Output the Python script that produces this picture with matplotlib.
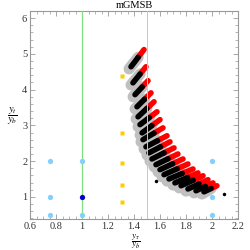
import matplotlib
matplotlib.use('Agg')
import matplotlib.pyplot as plt
import numpy as np
from matplotlib.ticker import MultipleLocator

plt.rcParams['font.family'] = 'Liberation Serif'
plt.rcParams['mathtext.fontset'] = 'stix'

# benchmark points
light_x = [0.75, 0.75, 0.75, 1.0, 1.0, 2.0, 2.0, 2.0]
light_y = [0.5, 1.0, 2.0, 0.5, 2.0, 0.5, 1.0, 2.0]
dark_x = [1.0]
dark_y = [1.0]
yellow_x = [1.31, 1.31, 1.31, 1.31, 1.31]
yellow_y = [4.37, 2.78, 1.94, 1.34, 0.86]

# mGMSB scan streaks: start (black end) -> end (red end)
streak_x0 = [1.377, 1.392, 1.408, 1.423, 1.431, 1.446, 1.462, 1.469, 1.492, 1.515,
             1.538, 1.569, 1.600, 1.631, 1.669, 1.715, 1.762, 1.815, 1.877, 1.938]
streak_y0 = [4.64, 4.19, 3.86, 3.52, 3.24, 3.02, 2.79, 2.60, 2.40, 2.23,
             2.06, 1.90, 1.76, 1.62, 1.50, 1.39, 1.31, 1.22, 1.17, 1.14]
streak_x1 = [1.477, 1.492, 1.508, 1.531, 1.554, 1.577, 1.600, 1.623, 1.654, 1.677,
             1.708, 1.738, 1.777, 1.815, 1.854, 1.892, 1.931, 1.969, 2.008, 2.038]
streak_y1 = [5.12, 4.64, 4.25, 3.91, 3.66, 3.38, 3.16, 2.93, 2.71, 2.54,
             2.37, 2.20, 2.06, 1.92, 1.78, 1.67, 1.59, 1.48, 1.39, 1.31]
stray_x = [1.569, 2.092]
stray_y = [1.45, 1.08]

red_frac = 0.45

fig = plt.figure(figsize=(2.5, 2.5), dpi=100)
ax = fig.add_axes([0.12, 0.124, 0.832, 0.832])

# gray halo behind the black parts
for x0, y0, x1, y1 in zip(streak_x0, streak_y0, streak_x1, streak_y1):
    xm = x0 + (1 - red_frac) * (x1 - x0)
    ym = y0 + (1 - red_frac) * (y1 - y0)
    ax.plot([x0 - 0.015, xm], [y0 - 0.06, ym], color='#c0c0c0', lw=8,
            solid_capstyle='round', zorder=1)
# black and red parts
for x0, y0, x1, y1 in zip(streak_x0, streak_y0, streak_x1, streak_y1):
    xm = x0 + (1 - red_frac) * (x1 - x0)
    ym = y0 + (1 - red_frac) * (y1 - y0)
    ax.plot([xm, x1], [ym, y1], color='#ff0000', lw=4,
            solid_capstyle='round', zorder=2)
    ax.plot([x0, xm], [y0, ym], color='black', lw=4,
            solid_capstyle='round', zorder=3)
ax.plot(stray_x, stray_y, 'o', color='black', ms=2.5, mec='none', zorder=3)

ax.axvline(1.0, color='#80e080', lw=0.9, zorder=4)
ax.axvline(1.5, color='#b0d8b0', lw=0.7, zorder=4)

ax.plot(light_x, light_y, 'o', color='#87cefa', ms=3.8, mec='none', zorder=5)
ax.plot(dark_x, dark_y, 'o', color='#0000cc', ms=3.8, mec='none', zorder=5)
ax.plot(yellow_x, yellow_y, 's', color='#ffcc00', ms=3.5, mec='none', zorder=5)

ax.set_xlim(0.6, 2.2)
ax.set_ylim(0.38, 6.2)
ax.xaxis.set_minor_locator(MultipleLocator(0.05))
ax.yaxis.set_minor_locator(MultipleLocator(0.2))
ax.set_xticks([0.6, 0.8, 1.0, 1.2, 1.4, 1.6, 1.8, 2.0, 2.2])
ax.set_xticklabels(['0.6', '0.8', '1', '1.2', '1.4', '1.6', '1.8', '2', '2.2'])
ax.set_yticks([1, 2, 3, 4, 5, 6])
ax.set_yticklabels(['1', '2', '3', '4', '5', '6'])

for s in ax.spines.values():
    s.set_color('#999999')
    s.set_linewidth(0.8)
ax.tick_params(which='both', direction='in', top=True, right=True,
               colors='#999999', labelcolor='#333333', labelsize=7.5, pad=2)
ax.tick_params(which='major', length=3.5, width=0.6)
ax.tick_params(which='minor', length=2, width=0.5)

ax.set_title('mGMSB', fontsize=7.5, pad=2)
fig.text(0.05, 0.535, r'$\dfrac{y_t}{y_b}$', fontsize=7.5, ha='center', va='center')
fig.text(0.545, 0.072, r'$\dfrac{y_\tau}{y_b}$', fontsize=6.5, ha='center', va='top')

fig.savefig('out.png', dpi=100)
